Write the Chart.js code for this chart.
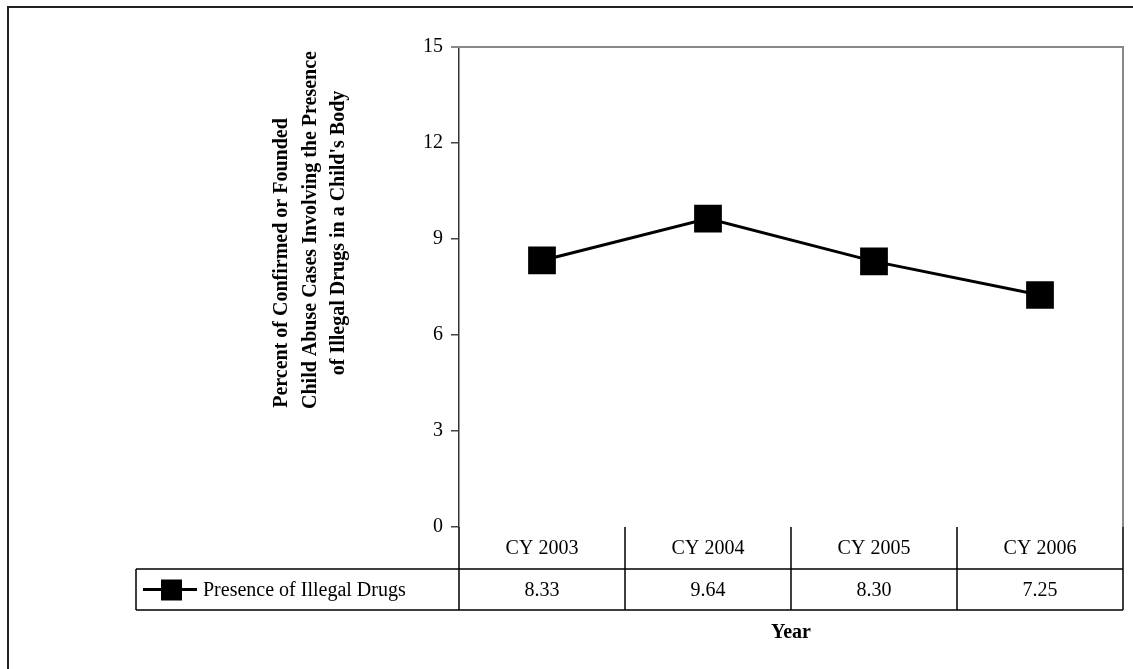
<!DOCTYPE html>
<html>
<head>
<meta charset="utf-8">
<script src="https://cdn.jsdelivr.net/npm/chart.js@4"></script>
<style>
    html, body { margin: 0; padding: 0; background: #fff; }
    #wrap { width: 1133px; height: 669px; position: relative; }
</style>
</head>
<body>
<div id="wrap"><canvas id="chart"></canvas></div>
<script>
// data
const years = ["CY 2003", "CY 2004", "CY 2005", "CY 2006"];
const illegalDrugs = [8.33, 9.64, 8.30, 7.25];
const seriesName = "Presence of Illegal Drugs";
const yTitle = [
    "Percent of Confirmed or Founded",
    "Child Abuse Cases Involving the Presence",
    "of Illegal Drugs in a Child's Body"
];
const xTitle = "Year";

const serif = "'Liberation Serif', 'Times New Roman', serif";

// frame, plot border, y title, data table and legend
const decor = {
    id: 'decor',
    beforeDraw(chart) {
        const ctx = chart.ctx;
        ctx.save();
        ctx.fillStyle = '#fff';
        ctx.fillRect(0, 0, chart.width, chart.height);
        ctx.strokeStyle = '#222';
        ctx.lineWidth = 2;
        ctx.beginPath();
        ctx.moveTo(8, chart.height + 5);
        ctx.lineTo(8, 7);
        ctx.lineTo(chart.width + 5, 7);
        ctx.stroke();
        ctx.restore();
    },
    afterDraw(chart) {
        const ctx = chart.ctx;
        const a = chart.chartArea;
        const x = chart.scales.x;
        ctx.save();

        // plot area border (top + right)
        ctx.strokeStyle = '#888';
        ctx.lineWidth = 2;
        ctx.beginPath();
        ctx.moveTo(a.left - 8, a.top);
        ctx.lineTo(a.right, a.top);
        ctx.lineTo(a.right, a.bottom);
        ctx.stroke();

        // y title, three rotated lines
        ctx.fillStyle = '#000';
        ctx.font = 'bold 20px ' + serif;
        ctx.textAlign = 'center';
        ctx.textBaseline = 'middle';
        const tx = [282, 311, 339];
        const ty = [263, 230, 233];
        yTitle.forEach((t, i) => {
            ctx.save();
            ctx.translate(tx[i], ty[i]);
            ctx.rotate(-Math.PI / 2);
            ctx.fillText(t, 0, 0);
            ctx.restore();
        });

        // data table
        const half = (x.getPixelForValue(1) - x.getPixelForValue(0)) / 2;
        const r0 = a.bottom, r1 = a.bottom + 42, r2 = a.bottom + 83;
        const legLeft = 136;
        ctx.strokeStyle = '#000';
        ctx.lineWidth = 1.5;
        ctx.beginPath();
        ctx.moveTo(a.left, r1); ctx.lineTo(a.right, r1);
        ctx.moveTo(legLeft, r2); ctx.lineTo(a.right, r2);
        ctx.moveTo(legLeft, r1); ctx.lineTo(a.left, r1);
        ctx.moveTo(legLeft, r1); ctx.lineTo(legLeft, r2);
        ctx.moveTo(a.right, r0); ctx.lineTo(a.right, r2);
        for (let i = 0; i < years.length; i++) {
            const l = x.getPixelForValue(i) - half;
            ctx.moveTo(l, r0); ctx.lineTo(l, r2);
        }
        ctx.stroke();

        ctx.font = '20px ' + serif;
        ctx.textAlign = 'center';
        years.forEach((y, i) => {
            const cx = x.getPixelForValue(i);
            ctx.fillText(y, cx, (r0 + r1) / 2 + 1);
            ctx.fillText(illegalDrugs[i].toFixed(2), cx, (r1 + r2) / 2 + 1);
        });

        // legend key inside the table
        const ly = (r1 + r2) / 2;
        ctx.lineWidth = 3;
        ctx.beginPath();
        ctx.moveTo(143, ly); ctx.lineTo(197, ly);
        ctx.stroke();
        ctx.fillRect(161, ly - 10, 21, 21);
        ctx.textAlign = 'left';
        ctx.fillText(seriesName, 203, ly + 1);

        // x title
        ctx.font = 'bold 20px ' + serif;
        ctx.textAlign = 'center';
        ctx.fillText(xTitle, (a.left + a.right) / 2, 633);
        ctx.restore();
    }
};

new Chart(document.getElementById('chart'), {
    type: 'line',
    data: {
        labels: years,
        datasets: [{
            label: seriesName,
            data: illegalDrugs,
            borderColor: '#000',
            backgroundColor: '#000',
            borderWidth: 3,
            pointStyle: 'rect',
            pointRadius: 17.5,
            pointHoverRadius: 17.5,
            tension: 0,
            fill: false
        }]
    },
    options: {
        responsive: true,
        maintainAspectRatio: false,
        animation: false,
        layout: {
            autoPadding: false,
            padding: { left: 409, top: 47, right: 10, bottom: 142 }
        },
        plugins: {
            legend: { display: false },
            tooltip: { enabled: false }
        },
        scales: {
            x: {
                type: 'category',
                offset: true,
                display: false
            },
            y: {
                min: 0,
                max: 15,
                afterFit(scale) { scale.width = 50; },
                ticks: {
                    stepSize: 3,
                    color: '#000',
                    padding: 8,
                    font: { family: serif, size: 20 }
                },
                grid: {
                    drawOnChartArea: false,
                    tickLength: 8,
                    color: '#444',
                    lineWidth: 1.5
                },
                border: { display: true, color: '#333', width: 1.5 }
            }
        }
    },
    plugins: [decor]
});
</script>
</body>
</html>
